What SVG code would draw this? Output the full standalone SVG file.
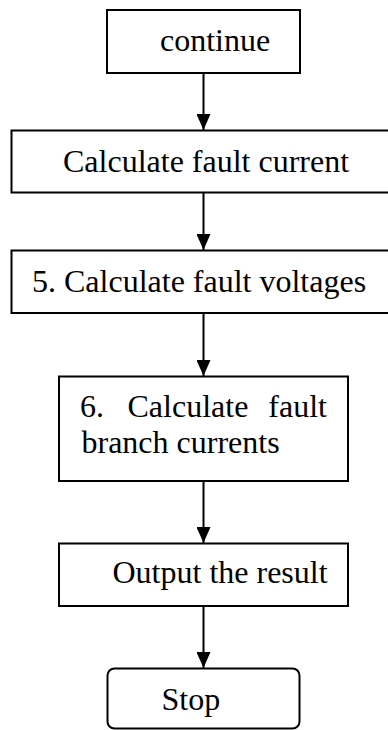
<svg xmlns="http://www.w3.org/2000/svg" width="388" height="730" viewBox="0 0 388 730">
<style>
.box{fill:#fff;stroke:#000;stroke-width:2}
.t{font-family:"Liberation Serif","Times New Roman",serif;font-size:32px;fill:#000}
.c{stroke:#000;stroke-width:2;fill:none}
</style>
<defs>
<marker id="ah" markerWidth="16" markerHeight="14" refX="16" refY="7" orient="auto" markerUnits="userSpaceOnUse">
<path d="M0,0 L16,7 L0,14 Z" fill="#000"/>
</marker>
</defs>
<rect width="388" height="730" fill="#fff"/>
<g id="connectors">
<line class="c" x1="203.5" y1="73" x2="203.5" y2="130" marker-end="url(#ah)"/>
<line class="c" x1="203.5" y1="188" x2="203.5" y2="250" marker-end="url(#ah)"/>
<line class="c" x1="203.5" y1="313" x2="203.5" y2="376" marker-end="url(#ah)"/>
<line class="c" x1="203.5" y1="481" x2="203.5" y2="543" marker-end="url(#ah)"/>
<line class="c" x1="203.5" y1="606" x2="203.5" y2="668" marker-end="url(#ah)"/>
</g>
<g id="n-continue">
<rect class="box" x="107" y="10" width="193" height="63"/>
<text class="t" x="160" y="51">continue</text>
</g>
<g id="n-current">
<rect class="box" x="11.5" y="130.5" width="382" height="62"/>
<text class="t" x="63" y="172">Calculate fault current</text>
</g>
<g id="n-voltages">
<rect class="box" x="11.5" y="250.5" width="382" height="62.5"/>
<text class="t" x="32" y="291.5">5. Calculate fault voltages</text>
</g>
<g id="n-branch">
<rect class="box" x="59" y="376.5" width="289" height="104.5"/>
<text class="t" y="416.5"><tspan x="80">6.</tspan><tspan x="127.5">Calculate</tspan><tspan x="268.3">fault</tspan></text>
<text class="t" x="81.5" y="453">branch currents</text>
</g>
<g id="n-output">
<rect class="box" x="59" y="543.5" width="289" height="62.5"/>
<text class="t" x="112.5" y="583">Output the result</text>
</g>
<g id="n-stop">
<rect class="box" x="107.5" y="668.5" width="192" height="60" rx="7" ry="7"/>
<text class="t" x="161.5" y="710">Stop</text>
</g>
</svg>
